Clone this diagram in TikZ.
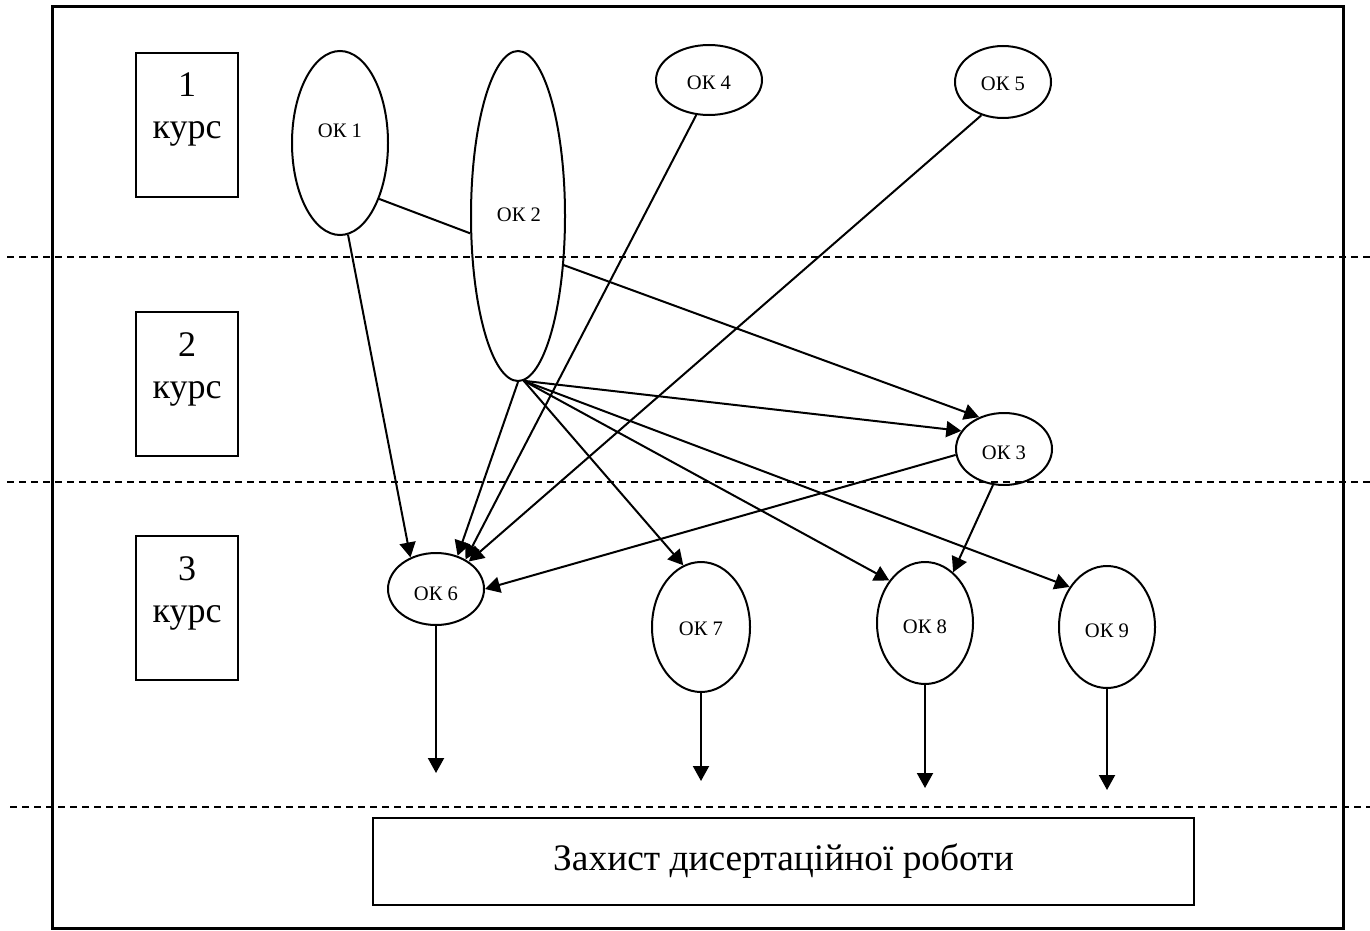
\documentclass[tikz,border=0pt]{standalone}
\usepackage{fontspec}
\setmainfont{Liberation Serif}
\usetikzlibrary{shapes.geometric,arrows.meta}
\begin{document}
\begin{tikzpicture}[x=0.5pt,y=-0.5pt,
  ok/.style={draw,ellipse,line width=1pt,inner sep=0pt},
  oklabel/.style={inner sep=0pt,font=\fontsize{10.3}{12}\selectfont},
  yearbox/.style={draw,rectangle,line width=1pt,minimum width=51pt,minimum height=72pt,inner sep=0pt},
  yeartext/.style={align=center,font=\fontsize{18}{21}\selectfont,inner sep=0pt},
  arr/.style={line width=1pt,-{Triangle[length=7.5pt,width=8pt]}},
  link/.style={line width=1pt},
  sep/.style={dash pattern=on 3.5pt off 2.5pt,line width=0.8pt},
  finalbox/.style={draw,rectangle,line width=1pt,minimum width=410.5pt,minimum height=43.5pt,inner sep=0pt,font=\fontsize{18.7}{21}\selectfont}]
\useasboundingbox (0,0) rectangle (1370,931);
\fill[white] (0,0) rectangle (1370,931);
\draw[line width=1.5pt] (52,7) rectangle (1343,928);
% separators
\draw[sep] (7,257) -- (1370,257);
\draw[sep] (7,482) -- (1370,482);
\draw[sep] (10,807) -- (1370,807);
% year boxes
\node[yearbox] (y1) at (187,125) {};
\node[yeartext] (t1) at (187,110) {1\\курс};
\node[yearbox] (y2) at (187,384) {};
\node[yeartext] (t2) at (187,369) {2\\курс};
\node[yearbox] (y3) at (187,608) {};
\node[yeartext] (t3) at (187,593) {3\\курс};
% course nodes
\node[ok,minimum width=48pt,minimum height=92pt] (ok1) at (340,143) {};
\node[ok,minimum width=47pt,minimum height=165pt] (ok2) at (518,216) {};
\node[ok,minimum width=53pt,minimum height=35pt] (ok4) at (709,80) {};
\node[ok,minimum width=48pt,minimum height=36pt] (ok5) at (1003,82) {};
\node[ok,minimum width=48pt,minimum height=36pt] (ok3) at (1004,449) {};
\node[ok,minimum width=48pt,minimum height=36pt] (ok6) at (436,589) {};
\node[ok,minimum width=49pt,minimum height=65pt] (ok7) at (701,627) {};
\node[ok,minimum width=48pt,minimum height=61pt] (ok8) at (925,623) {};
\node[ok,minimum width=48pt,minimum height=61pt] (ok9) at (1107,627) {};
% labels
\node[oklabel] (l1) at (340,131) {ОК 1};
\node[oklabel] (l2) at (519,215) {ОК 2};
\node[oklabel] (l4) at (709,83) {ОК 4};
\node[oklabel] (l5) at (1003,84) {ОК 5};
\node[oklabel] (l3) at (1004,453) {ОК 3};
\node[oklabel] (l6) at (436,594) {ОК 6};
\node[oklabel] (l7) at (701,629) {ОК 7};
\node[oklabel] (l8) at (925,627) {ОК 8};
\node[oklabel] (l9) at (1107,631) {ОК 9};
% final box
\node[finalbox] (fin) at (783.5,861.5) {Захист дисертаційної роботи};
% connectors
\draw[link] (ok1.305) -- (ok2.200);
\draw[arr] (ok1.275) -- (ok6.129);
\draw[arr] (ok2.313) -- (ok3.128);
\draw[arr] (ok2.-88) -- (ok3.157);
\draw[arr] (ok2.-90) -- (ok6.57);
\draw[arr] (ok4.250) -- (ok6.45);
\draw[arr] (ok5.237) -- (ok6.40);
\draw[arr] (ok2.-88) -- (ok7.106);
\draw[arr] (ok2.-88) -- (ok8.130);
\draw[arr] (ok2.-88) -- (ok9.133);
\draw[arr] (ok3.253) -- (ok8.61);
\draw[arr] (ok3.187) -- (ok6.0);
% outgoing arrows
\coordinate (d6) at (436,773);
\coordinate (d7) at (701,781);
\coordinate (d8) at (925,788);
\coordinate (d9) at (1107,790);
\draw[arr] (ok6.south) -- (d6);
\draw[arr] (ok7.south) -- (d7);
\draw[arr] (ok8.south) -- (d8);
\draw[arr] (ok9.south) -- (d9);
\end{tikzpicture}
\end{document}
